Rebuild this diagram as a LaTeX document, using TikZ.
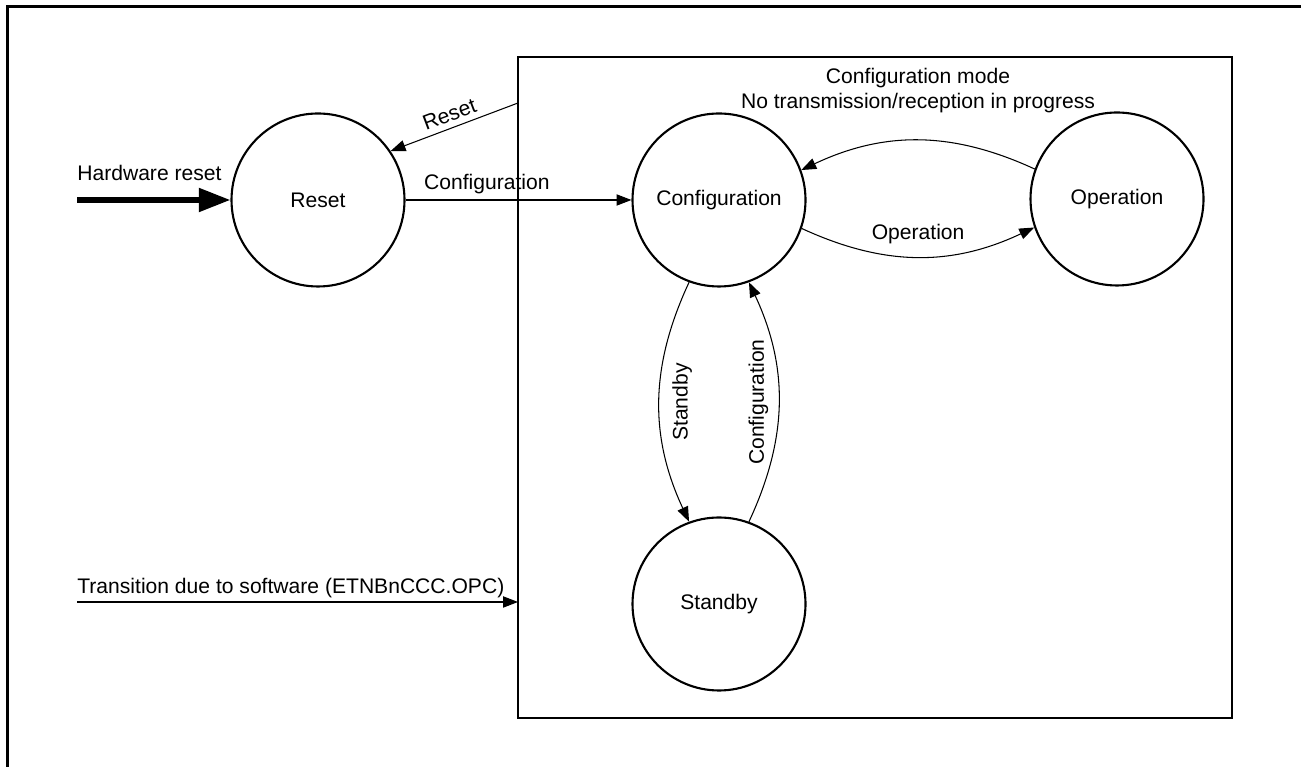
\documentclass[tikz,border=0pt]{standalone}
\usepackage{fontspec}
\setmainfont{Liberation Sans}
\usetikzlibrary{arrows.meta}

\begin{document}
\begin{tikzpicture}[
    font=\fontsize{12}{14.2}\selectfont,
    >={Triangle[length=8.5pt,width=6.4pt]},
    state/.style={circle, draw, line width=1.2pt, minimum size=3.46cm, inner sep=0pt},
    arr/.style={->, line width=0.6pt},
    hwarr/.style={-{Triangle[length=18pt,width=13pt]}, line width=3.2pt},
    frame/.style={line width=1.3pt},
    lbl/.style={anchor=base west, inner sep=0pt}
  ]
  \useasboundingbox (0,0) rectangle (26.02,15.34);

  % outer frame and mode box
  \draw[frame] (0.15,0) -- (0.15,15.21) -- (26.02,15.21);
  \draw[frame] (10.36,0.98) rectangle (24.64,14.2);
  \node[align=center] (modelbl) at (18.36,13.52) {Configuration mode\\No transmission/reception in progress};

  \node[state] (rst) at (6.36,11.34)  {Reset};
  \node[state] (cfg) at (14.38,11.34) {Configuration};
  \node[state] (opr) at (22.34,11.36) {Operation};
  \node[state] (stb) at (14.38,3.26)  {Standby};

  \coordinate (hwin)  at (1.54,11.34);
  \coordinate (rsrc)  at (10.36,13.28);
  \coordinate (swin)  at (1.54,3.30);
  \coordinate (swout) at (10.36,3.30);

  \node[lbl] (hwlbl) at (1.54,11.72) {Hardware reset};
  \node[lbl] (swlbl) at (1.54,3.46) {Transition due to software (ETNBnCCC.OPC)};

  \draw[hwarr] (hwin) -- (rst.west);
  \draw[arr, <-] (rst.34) -- node[midway, sloped, above] {Reset} (rsrc);
  \draw[arr] (rst) -- node[pos=0.36, above] {Configuration} (cfg);
  \draw[arr] (swin) -- (swout);

  \draw[arr] (cfg.-19) to[bend right=25] node[midway, above=4pt] {Operation} (opr.199);
  \draw[arr] (opr.160) to[bend right=25] (cfg.20);

  % vertical transitions
  \draw[arr] (cfg.250) to[bend right=25] node[midway, rotate=90, anchor=north, inner sep=7pt] {Standby} (stb.110);
  \draw[arr] (stb.70) to[bend right=25] node[midway, rotate=90, anchor=south, inner sep=5.5pt] {Configuration} (cfg.290);
\end{tikzpicture}
\end{document}
